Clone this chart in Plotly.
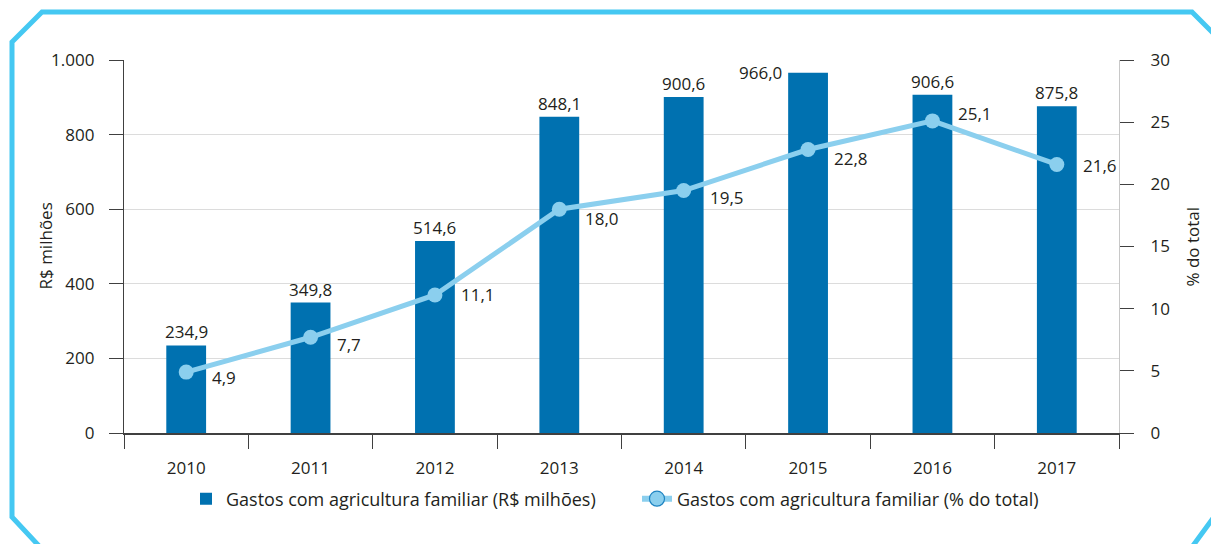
import plotly.graph_objects as go

years = ["2010", "2011", "2012", "2013", "2014", "2015", "2016", "2017"]
gastos_milhoes = [234.9, 349.8, 514.6, 848.1, 900.6, 966.0, 906.6, 875.8]
gastos_pct = [4.9, 7.7, 11.1, 18.0, 19.5, 22.8, 25.1, 21.6]

name_bar = "Gastos com agricultura familiar (R$ milhões)"
name_line = "Gastos com agricultura familiar (% do total)"
title_left = "R$ milhões"
title_right = "% do total"

BAR = "#0071b0"
LINE = "#8bcfee"
TXT = "#231f20"
FONT = "Open Sans"
FS = 17

W, H = 1211, 544
L, R, T, B = 124, 1119, 60, 433


def px(x):
    return (x - L) / (R - L)


def py(y):
    return (B - y) / (B - T)


fig = go.Figure()
fig.add_trace(go.Bar(
    x=years, y=gastos_milhoes, name=name_bar,
    marker=dict(color=BAR, line=dict(width=0)),
    width=0.32, yaxis="y",
))
fig.add_trace(go.Scatter(
    x=years, y=gastos_pct, name=name_line, yaxis="y2",
    mode="lines+markers", showlegend=False,
    line=dict(color=LINE, width=5),
    marker=dict(size=15, color=LINE, line=dict(width=0)),
))
# legend entry for the line (outlined marker as in the reference legend)
fig.add_trace(go.Scatter(
    x=[None], y=[None], name=name_line, yaxis="y2",
    mode="lines+markers",
    line=dict(color=LINE, width=6),
    marker=dict(size=15, color=LINE, line=dict(color="#1f84c2", width=1.2)),
))

annos = []
# bar labels
bar_xshift = [0, 0, 0, 0, 0, -48, 0, 0]
for i, v in enumerate(gastos_milhoes):
    side = bar_xshift[i] != 0
    annos.append(dict(
        x=i, y=v, xref="x", yref="y",
        text=f"{v:.1f}".replace(".", ","),
        showarrow=False,
        xanchor="center", yanchor="middle" if side else "bottom",
        xshift=bar_xshift[i], yshift=0,
        font=dict(family=FONT, size=FS, color=TXT),
    ))

# line labels
line_yshift = [-5, -7, 0, -9, -7, -9, 7, -1]
for i, v in enumerate(gastos_pct):
    annos.append(dict(
        x=i, y=v, xref="x", yref="y2",
        text=f"{v:.1f}".replace(".", ","),
        showarrow=False, xanchor="left", yanchor="middle",
        xshift=24, yshift=line_yshift[i],
        font=dict(family=FONT, size=FS, color=TXT),
    ))

# axis titles
annos.append(dict(x=px(45), y=0.5, xref="paper", yref="paper", text=title_left,
                  textangle=-90, showarrow=False, xanchor="center", yanchor="middle",
                  font=dict(family=FONT, size=FS, color=TXT)))
annos.append(dict(x=px(1192), y=0.5, xref="paper", yref="paper", text=title_right,
                  textangle=-90, showarrow=False, xanchor="center", yanchor="middle",
                  font=dict(family=FONT, size=FS, color=TXT)))

# frame (octagon with cut corners), in paper coords
pts = [(42, 12), (1192, 12), (1214, 34), (1214, 517), (1192, 547), (40, 547), (12, 517), (12, 42)]
path = "M " + " L ".join(f"{px(a):.5f},{py(b):.5f}" for a, b in pts) + " Z"

fig.update_layout(
    width=W, height=H,
    margin=dict(l=L, r=W - R, t=T, b=H - B, pad=0),
    paper_bgcolor="white", plot_bgcolor="white",
    separators=",.",
    font=dict(family=FONT, size=FS, color=TXT),
    annotations=annos,
    shapes=[dict(type="path", path=path, xref="paper", yref="paper",
                 line=dict(color="#45c8f2", width=5), layer="below")],
    showlegend=True,
    legend=dict(orientation="h", x=px(186), xanchor="left", y=py(499), yanchor="middle",
                font=dict(family=FONT, size=18, color=TXT), traceorder="normal",
                entrywidth=406, entrywidthmode="pixels",
                bgcolor="rgba(0,0,0,0)"),
    bargap=0.68,
    xaxis=dict(
        type="category", showgrid=False,
        showline=True, linecolor="#404040", linewidth=1.5,
        ticks="outside", tickson="boundaries", ticklen=14, tickcolor="#404040", tickwidth=1.3,
        ticklabelstandoff=19,
        tickfont=dict(family=FONT, size=FS, color=TXT),
        range=[-0.5, 7.5],
    ),
    yaxis=dict(
        range=[0, 1000], dtick=200, tickformat=",.0f",
        showgrid=True, gridcolor="#dcdcdc", gridwidth=1.3,
        showline=True, linecolor="#404040", linewidth=1.3,
        ticks="outside", ticklen=14, tickcolor="#404040", tickwidth=1.3,
        ticklabelstandoff=11,
        tickfont=dict(family=FONT, size=FS, color=TXT),
        zeroline=False,
    ),
    yaxis2=dict(
        range=[0, 30], dtick=5, overlaying="y", side="right",
        showgrid=False, zeroline=False,
        showline=True, linecolor="#c8c8c8", linewidth=1.3,
        ticks="outside", ticklen=14, tickcolor="#404040", tickwidth=1.3,
        ticklabelstandoff=13,
        tickfont=dict(family=FONT, size=FS, color=TXT),
    ),
)

fig.write_html("out.html", config={"displayModeBar": False},
               post_script="document.body.style.margin='0';document.body.style.overflow='hidden';")
